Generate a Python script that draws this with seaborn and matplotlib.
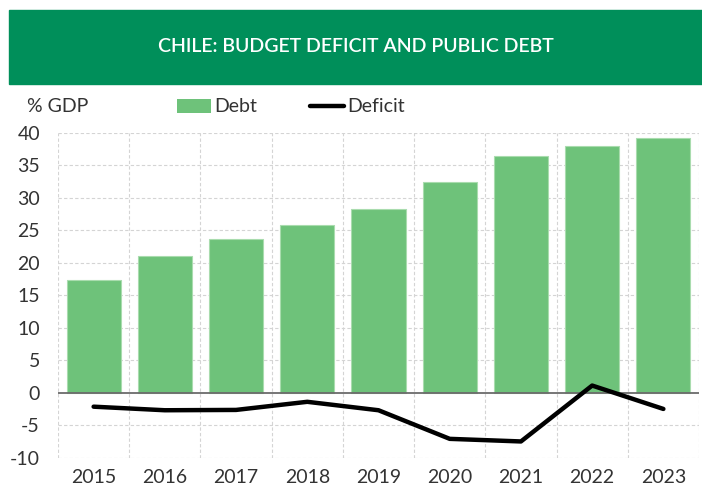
import matplotlib
matplotlib.use("Agg")
import matplotlib.pyplot as plt
import seaborn as sns
import numpy as np
import pandas as pd
from matplotlib.patches import Rectangle
from matplotlib.lines import Line2D
from matplotlib.patches import Patch

years = ["2015", "2016", "2017", "2018", "2019", "2020", "2021", "2022", "2023"]
debt = [17.3, 21.1, 23.6, 25.8, 28.2, 32.4, 36.4, 38.0, 39.2]
deficit = [-2.15, -2.7, -2.65, -1.4, -2.7, -7.1, -7.5, 1.1, -2.5]
yticks = [-10, -5, 0, 5, 10, 15, 20, 25, 30, 35, 40]

sns.set_theme(style="white")
plt.rcParams['font.family'] = ['Lato', 'DejaVu Sans']

df = pd.DataFrame({"year": years, "debt": debt, "deficit": deficit})

fig = plt.figure(figsize=(7.02, 4.91), dpi=100)
ax = fig.add_axes([58/702, 1-457.7/491, (699-58)/702, (457.7-132.7)/491])

bar_color = "#6ec27a"
sns.barplot(data=df, x="year", y="debt", color=bar_color, width=0.76,
            edgecolor="#a9dcae", linewidth=0.8, saturation=1, ax=ax, zorder=2)
sns.lineplot(x=np.arange(len(years)), y=deficit, color="black", linewidth=3.2,
             ax=ax, zorder=4)

ax.set_ylim(-10, 40)
ax.set_xlim(-0.5, len(years) - 0.5)
ax.set_yticks(yticks)
ax.set_yticklabels([str(t) for t in yticks])
ax.set_xlabel("")
ax.set_ylabel("")
for s in ax.spines.values():
    s.set_visible(False)

grid_kw = dict(color="#d4d4d4", linestyle=(0, (3, 2)), linewidth=0.8, zorder=0)
for t in yticks:
    if t != 0:
        ax.axhline(t, **grid_kw)
for xb in np.arange(-0.5, len(years), 1.0):
    ax.axvline(xb, **grid_kw)
ax.axhline(0, color="#6b6b6b", linewidth=1.3, zorder=3)

ax.tick_params(axis="both", length=0, labelsize=14, colors="#333333")
ax.tick_params(axis="y", pad=13)
ax.tick_params(axis="x", pad=8)

# header
fig.patches.append(Rectangle((9/702, 1-84/491), 1-9/702, 74/491,
                             transform=fig.transFigure, color="#008f5a", zorder=0))
fig.text((9/702 + 1) / 2, 1-47/491, "CHILE: BUDGET DEFICIT AND PUBLIC DEBT",
         ha="center", va="center", color="white", fontsize=14, fontweight="semibold")

fig.text(27/702, 1-107/491, "% GDP", ha="left", va="center", fontsize=14, color="#333333")

handles = [Patch(facecolor=bar_color, edgecolor="none"),
           Line2D([0], [0], color="black", linewidth=3.2)]
fig.legend(handles, ["Debt", "Deficit"], loc="center left", bbox_to_anchor=(159/702, 1-107/491),
           ncol=2, frameon=False, fontsize=14, handlelength=1.75, handletextpad=0.2,
           columnspacing=2.7, labelcolor="#333333")

fig.savefig("out.png", dpi=100)
